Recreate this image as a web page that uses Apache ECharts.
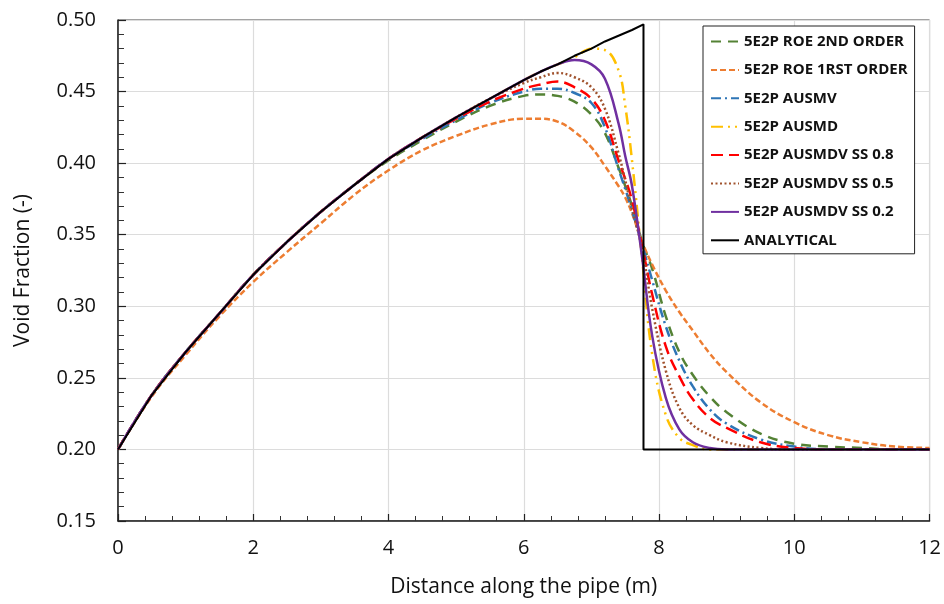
<!DOCTYPE html>
<html>
<head>
<meta charset="utf-8">
<script src="https://cdn.jsdelivr.net/npm/echarts@6/dist/echarts.min.js"></script>
<style>
  html, body { margin: 0; padding: 0; background: #fff; }
  #chart { width: 944px; height: 604px; }
</style>
</head>
<body>
<div id="chart"></div>
<script>
// distance along the pipe (m), shared by the numerical schemes
var distance = [0, 0.5, 1, 1.5, 2, 2.5, 3, 3.5, 4, 4.5, 5, 5.5, 6, 6.25, 6.5, 6.75, 7, 7.2, 7.4, 7.5, 7.6, 7.75, 7.9, 8.1, 8.3, 8.5, 8.75, 9, 9.5, 10, 10.5, 11, 11.5, 12];

var roe2nd = [0.200, 0.238, 0.268, 0.295, 0.322, 0.345, 0.366, 0.385, 0.402, 0.416, 0.429, 0.440, 0.447, 0.448, 0.447, 0.443, 0.434, 0.421, 0.397, 0.384, 0.370, 0.345, 0.326, 0.293, 0.268, 0.252, 0.237, 0.226, 0.211, 0.204, 0.202, 0.201, 0.200, 0.200];
var roe1st = [0.200, 0.237, 0.266, 0.293, 0.317, 0.338, 0.358, 0.378, 0.395, 0.409, 0.419, 0.427, 0.431, 0.431, 0.429, 0.422, 0.411, 0.398, 0.384, 0.376, 0.365, 0.345, 0.329, 0.311, 0.296, 0.283, 0.267, 0.254, 0.233, 0.219, 0.210, 0.205, 0.202, 0.201];
var ausmv = [0.200, 0.238, 0.268, 0.295, 0.322, 0.345, 0.366, 0.385, 0.403, 0.417, 0.430, 0.442, 0.450, 0.452, 0.452, 0.449, 0.442, 0.425, 0.396, 0.382, 0.367, 0.343, 0.318, 0.286, 0.262, 0.244, 0.228, 0.218, 0.207, 0.202, 0.200, 0.200, 0.200, 0.200];
var ausmd = [0.200, 0.238, 0.268, 0.295, 0.322, 0.345, 0.366, 0.385, 0.403, 0.418, 0.432, 0.445, 0.458, 0.464, 0.469, 0.474, 0.480, 0.479, 0.465, 0.440, 0.402, 0.333, 0.266, 0.224, 0.208, 0.203, 0.200, 0.200, 0.200, 0.200, 0.200, 0.200, 0.200, 0.200];
var ausmdv08 = [0.200, 0.238, 0.268, 0.295, 0.322, 0.345, 0.366, 0.385, 0.403, 0.418, 0.431, 0.443, 0.452, 0.455, 0.457, 0.453, 0.445, 0.430, 0.402, 0.389, 0.374, 0.342, 0.308, 0.272, 0.251, 0.235, 0.222, 0.215, 0.205, 0.201, 0.200, 0.200, 0.200, 0.200];
var ausmdv05 = [0.200, 0.238, 0.268, 0.295, 0.322, 0.345, 0.366, 0.385, 0.403, 0.418, 0.432, 0.445, 0.456, 0.460, 0.463, 0.460, 0.453, 0.438, 0.407, 0.388, 0.368, 0.340, 0.298, 0.255, 0.229, 0.217, 0.210, 0.205, 0.201, 0.200, 0.200, 0.200, 0.200, 0.200];
var ausmdv02 = [0.200, 0.238, 0.268, 0.295, 0.322, 0.345, 0.366, 0.385, 0.403, 0.418, 0.432, 0.445, 0.458, 0.464, 0.469, 0.472, 0.469, 0.459, 0.428, 0.405, 0.384, 0.334, 0.279, 0.236, 0.214, 0.205, 0.201, 0.200, 0.200, 0.200, 0.200, 0.200, 0.200, 0.200];

// analytical solution with the shock at x = 7.77 m
var analyticalX = [0, 0.5, 1, 1.5, 2, 2.5, 3, 3.5, 4, 4.5, 5, 5.5, 6, 6.25, 6.5, 6.75, 7, 7.2, 7.4, 7.6, 7.77, 7.77, 12];
var analyticalY = [0.200, 0.238, 0.268, 0.295, 0.322, 0.345, 0.366, 0.385, 0.403, 0.418, 0.432, 0.445, 0.458, 0.464, 0.469, 0.475, 0.480, 0.485, 0.489, 0.493, 0.497, 0.200, 0.200];

var xTicks = { min: 0, max: 12, step: 2 };
var yTicks = { min: 0.15, max: 0.5, step: 0.05 };

function pairs(xs, ys) {
  return xs.map(function (x, i) { return [x, ys[i]]; });
}

var font = "'Open Sans', 'Noto Sans', sans-serif";

function scheme(name, data, color, dash, width) {
  return {
    name: name,
    type: "line",
    data: pairs(distance, data),
    smooth: 0.4,
    symbol: "none",
    showSymbol: false,
    lineStyle: {
      color: color,
      width: width || 2.5,
      type: dash, // dash pattern
      cap: "butt"
    },
    itemStyle: { color: color },
    z: 2
  };
}

var chart = echarts.init(document.getElementById("chart"), null, { renderer: "canvas" });

var option = {
  animation: false,
  backgroundColor: "#fff",
  grid: {
    left: 118,
    right: 14,
    top: 20,
    bottom: 83,
    show: true,
    borderColor: "#444",
    borderWidth: 1
  },
  legend: {
    left: 703,
    top: 26,
    orient: "vertical",
    selectedMode: false,
    backgroundColor: "#fff",
    borderColor: "#222",
    borderWidth: 1,
    borderRadius: 0,
    padding: [8, 7, 6, 7],
    itemWidth: 28,
    itemHeight: 14,
    itemGap: 13.4,
    itemStyle: { opacity: 0 }, // hide the marker, keep the line sample
    textStyle: {
      fontFamily: font,
      fontWeight: "bold",
      fontSize: 15,
      color: "#111"
    },
    data: [
      "5E2P ROE 2ND ORDER",
      "5E2P ROE 1RST ORDER",
      "5E2P AUSMV",
      "5E2P AUSMD",
      "5E2P AUSMDV SS 0.8",
      "5E2P AUSMDV SS 0.5",
      "5E2P AUSMDV SS 0.2",
      "ANALYTICAL"
    ]
  },
  xAxis: {
    type: "value",
    min: xTicks.min,
    max: xTicks.max,
    interval: xTicks.step,
    name: "Distance along the pipe (m)",
    nameLocation: "middle",
    nameGap: 56,
    nameTextStyle: { fontFamily: font, fontSize: 21, color: "#111" },
    axisLine: { show: true, lineStyle: { color: "#222", width: 1.5 } },
    axisTick: { show: true, inside: true, length: 7, lineStyle: { color: "#222", width: 1.2 } },
    minorTick: { show: true, splitNumber: 5, length: 5, lineStyle: { color: "#333", width: 1 } },
    axisLabel: { fontFamily: font, fontSize: 20, color: "#111", margin: 17 },
    splitLine: { show: true, lineStyle: { color: "#dcdcdc", width: 1.2 } }
  },
  yAxis: {
    type: "value",
    min: yTicks.min,
    max: yTicks.max,
    interval: yTicks.step,
    name: "Void Fraction (-)",
    nameLocation: "middle",
    nameGap: 84,
    nameTextStyle: { fontFamily: font, fontSize: 21, color: "#111" },
    axisLine: { show: true, lineStyle: { color: "#222", width: 1.5 } },
    axisTick: { show: true, inside: true, length: 8, lineStyle: { color: "#222", width: 1.2 } },
    minorTick: { show: true, splitNumber: 5, length: 6, lineStyle: { color: "#333", width: 1 } },
    axisLabel: {
      fontFamily: font, fontSize: 20, color: "#111", margin: 22,
      formatter: function (v) { return v.toFixed(2); }
    },
    splitLine: { show: true, lineStyle: { color: "#dcdcdc", width: 1.2 } }
  },
  series: [
    scheme("5E2P ROE 2ND ORDER", roe2nd, "#548235", [10, 7]),
    scheme("5E2P ROE 1RST ORDER", roe1st, "#ED7D31", [6, 3]),
    scheme("5E2P AUSMV", ausmv, "#2E75B6", [10, 4, 2, 4]),
    scheme("5E2P AUSMD", ausmd, "#FFC000", [12, 5, 2, 5, 2, 5]),
    scheme("5E2P AUSMDV SS 0.8", ausmdv08, "#FF0000", [12, 6]),
    scheme("5E2P AUSMDV SS 0.5", ausmdv05, "#A0522D", [2, 2.5]),
    scheme("5E2P AUSMDV SS 0.2", ausmdv02, "#7030A0", "solid"),
    {
      name: "ANALYTICAL",
      type: "line",
      data: pairs(analyticalX, analyticalY),
      smooth: false,
      symbol: "none",
      showSymbol: false,
      lineStyle: { color: "#000", width: 2, type: "solid" },
      itemStyle: { color: "#000" },
      z: 3
    }
  ]
};

chart.setOption(option);
</script>
</body>
</html>
